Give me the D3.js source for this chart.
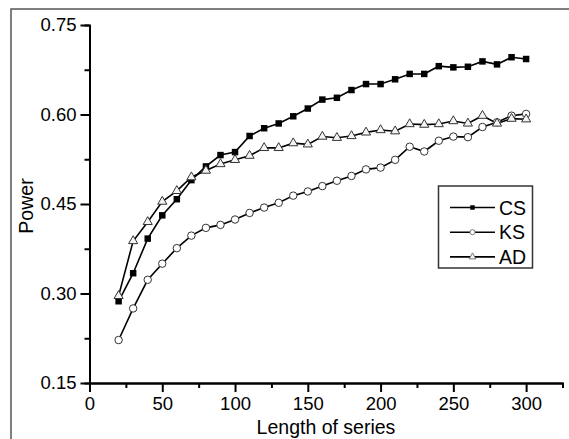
<!DOCTYPE html>
<html>
<head>
<meta charset="utf-8">
<script src="https://cdn.jsdelivr.net/npm/d3@7"></script>
<style>
  body { margin: 0; background: #fff; }
  svg { font-family: "Liberation Sans", Arial, sans-serif; }
</style>
</head>
<body>
<div id="chart"></div>
<script>
const lengths = [20,30,40,50,60,70,80,90,100,110,120,130,140,150,160,170,180,190,200,210,220,230,240,250,260,270,280,290,300];
const csPower = [0.287,0.334,0.392,0.431,0.458,0.490,0.513,0.532,0.537,0.564,0.577,0.585,0.597,0.610,0.625,0.628,0.641,0.651,0.651,0.659,0.668,0.668,0.681,0.679,0.680,0.689,0.684,0.696,0.693];
const ksPower = [0.222,0.275,0.323,0.350,0.376,0.397,0.410,0.415,0.424,0.435,0.444,0.452,0.464,0.471,0.480,0.489,0.497,0.508,0.511,0.524,0.546,0.538,0.556,0.563,0.562,0.579,0.587,0.598,0.601];
const adPower = [0.296,0.388,0.420,0.454,0.472,0.495,0.506,0.517,0.524,0.531,0.544,0.544,0.552,0.550,0.563,0.561,0.564,0.570,0.574,0.572,0.584,0.583,0.584,0.589,0.585,0.598,0.585,0.593,0.592];
const seriesNames = ["CS", "KS", "AD"];
const xTicks = [0,50,100,150,200,250,300];
const yTicks = [0.15,0.30,0.45,0.60,0.75];

const W = 569, H = 439;
const svg = d3.select("#chart").append("svg").attr("width", W).attr("height", H);

// figure frame (only left and top edges visible)
svg.append("path").attr("d", `M11,${H} V9 H${W}`)
  .attr("fill", "none").attr("stroke", "#555").attr("stroke-width", 1.5);

const x = d3.scaleLinear().domain([0, 325]).range([89.5, 562.5]);
const y = d3.scaleLinear().domain([0.15, 0.75]).range([383, 25]);

// minor ticks
const gx = svg.append("g").attr("transform", `translate(0,${y(0.15)})`)
  .call(d3.axisBottom(x).tickValues(d3.range(25, 325, 50)).tickSize(5).tickFormat(""));
const gy = svg.append("g").attr("transform", `translate(${x(0)},0)`)
  .call(d3.axisLeft(y).tickValues([0.225,0.375,0.525,0.675]).tickSize(5).tickFormat(""));

// major axes
const ax = svg.append("g").attr("transform", `translate(0,${y(0.15)})`)
  .call(d3.axisBottom(x).tickValues(xTicks).tickSize(9).tickSizeOuter(0).tickPadding(5));
const ay = svg.append("g").attr("transform", `translate(${x(0)},0)`)
  .call(d3.axisLeft(y).tickValues(yTicks).tickSize(9).tickSizeOuter(0).tickPadding(4).tickFormat(d3.format(".2f")));

[gx, gy, ax, ay].forEach(g => {
  g.selectAll("path.domain").attr("stroke", "#000").attr("stroke-width", 2);
  g.selectAll(".tick line").attr("stroke", "#000").attr("stroke-width", 2);
  g.selectAll(".tick text").attr("fill", "#000").attr("font-size", 18.5).attr("font-family", "Liberation Sans, Arial, sans-serif");
});

svg.append("text").attr("x", 326).attr("y", 434).attr("text-anchor", "middle")
  .attr("font-size", 19.5).text("Length of series");
svg.append("text").attr("transform", "translate(33,206) rotate(-90)").attr("text-anchor", "middle")
  .attr("font-size", 19.5).text("Power");

const series = [
  { name: seriesNames[0], values: csPower, symbol: d3.symbolSquare, size: 42, fill: "#000" },
  { name: seriesNames[1], values: ksPower, symbol: d3.symbolCircle, size: 44, fill: "#fff" },
  { name: seriesNames[2], values: adPower, symbol: d3.symbolTriangle, size: 36, fill: "#f4f4f4" }
];

const line = d3.line().x((d, i) => x(lengths[i])).y(d => y(d));

series.forEach(s => {
  svg.append("path").datum(s.values).attr("d", line)
    .attr("fill", "none").attr("stroke", "#000").attr("stroke-width", 1.6);
});
series.forEach(s => {
  svg.append("g").selectAll("path").data(s.values).enter().append("path")
    .attr("transform", (d, i) => `translate(${x(lengths[i])},${y(d)})`)
    .attr("d", d3.symbol().type(s.symbol).size(s.size))
    .attr("fill", s.fill).attr("stroke", s.fill === "#000" ? "none" : "#333").attr("stroke-width", 1);
});

// legend
const lg = svg.append("g");
lg.append("rect").attr("x", 438.5).attr("y", 186).attr("width", 94).attr("height", 82)
  .attr("fill", "#fff").attr("stroke", "#333").attr("stroke-width", 1.5);
series.forEach((s, i) => {
  const ly = 207.5 + i * 24.7;
  lg.append("line").attr("x1", 450).attr("x2", 495).attr("y1", ly).attr("y2", ly)
    .attr("stroke", "#000").attr("stroke-width", 1.6);
  lg.append("path").attr("transform", `translate(472.5,${ly})`)
    .attr("d", d3.symbol().type(s.symbol).size(20))
    .attr("fill", s.fill).attr("stroke", s.fill === "#000" ? "none" : "#555").attr("stroke-width", 0.8);
  lg.append("text").attr("x", 499).attr("y", ly + 7).attr("font-size", 19.5).text(s.name);
});
</script>
</body>
</html>
